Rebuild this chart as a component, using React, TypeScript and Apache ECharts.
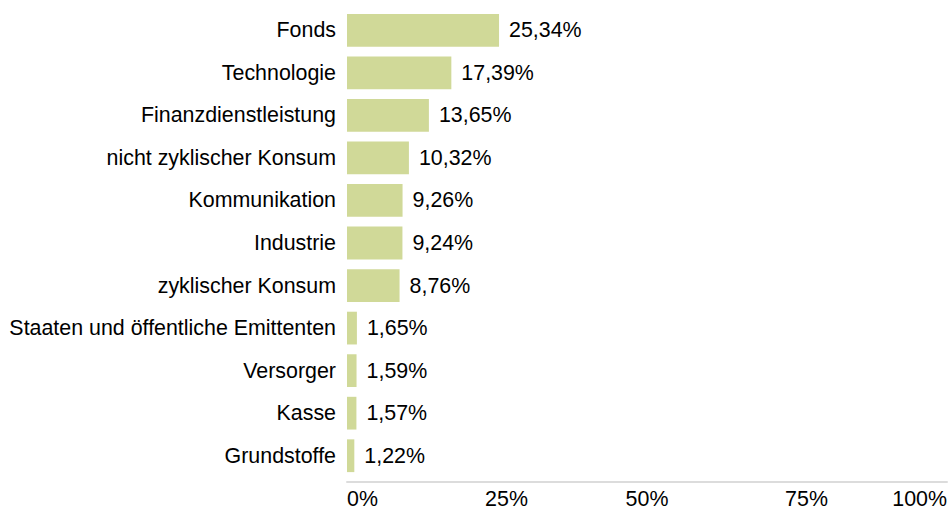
import React, { useEffect, useRef } from "react";
import * as echarts from "echarts";

const categories = [
  "Fonds",
  "Technologie",
  "Finanzdienstleistung",
  "nicht zyklischer Konsum",
  "Kommunikation",
  "Industrie",
  "zyklischer Konsum",
  "Staaten und öffentliche Emittenten",
  "Versorger",
  "Kasse",
  "Grundstoffe",
];
const values = [25.34, 17.39, 13.65, 10.32, 9.26, 9.24, 8.76, 1.65, 1.59, 1.57, 1.22];
const xTicks = [0, 25, 50, 75, 100];

const FONT = "'Liberation Sans', Arial, sans-serif";
const FS = 21.4;

export default function App() {
  const ref = useRef<HTMLDivElement>(null);
  useEffect(() => {
    if (!ref.current) return;
    const chart = echarts.init(ref.current, undefined, { renderer: "svg" });
    chart.setOption({
      animation: false,
      grid: { left: 347, right: 3, top: 9, bottom: 31, containLabel: false },
      xAxis: {
        type: "value",
        min: xTicks[0],
        max: xTicks[xTicks.length - 1],
        interval: 25,
        offset: 5,
        axisLine: { show: true, lineStyle: { color: "#dcdcdc", width: 2 } },
        axisTick: { show: false },
        splitLine: { show: false },
        axisLabel: {
          show: true,
          margin: 6,
          color: "#000",
          fontFamily: FONT,
          fontSize: FS,
          alignMinLabel: "left",
          alignMaxLabel: "right",
          formatter: (v: number) => (v === 25 || v === 75 ? `{s|${v}%}` : `${v}%`),
          rich: {
            s: { fontFamily: FONT, fontSize: FS, color: "#000", padding: [0, 0, 0, 19] },
          },
        },
      },
      yAxis: {
        type: "category",
        data: categories,
        inverse: true,
        axisLine: { show: false },
        axisTick: { show: false },
        splitLine: { show: false },
        axisLabel: {
          margin: 11,
          color: "#000",
          fontFamily: FONT,
          fontSize: FS,
          padding: [0, 0, 4, 0],
        },
      },
      series: [
        {
          type: "bar",
          data: values,
          barCategoryGap: "23%",
          itemStyle: { color: "#d0d998" },
          label: {
            show: true,
            position: "right",
            distance: 10,
            color: "#000",
            fontFamily: FONT,
            fontSize: FS,
            padding: [0, 0, 4, 0],
            formatter: (p: any) => `${p.value.toFixed(2).replace(".", ",")}%`,
          },
        },
      ],
    });
    return () => chart.dispose();
  }, []);
  return (
    <div
      ref={ref}
      style={{ position: "absolute", left: 0, top: 0, width: 950, height: 509, background: "#fff" }}
    />
  );
}
